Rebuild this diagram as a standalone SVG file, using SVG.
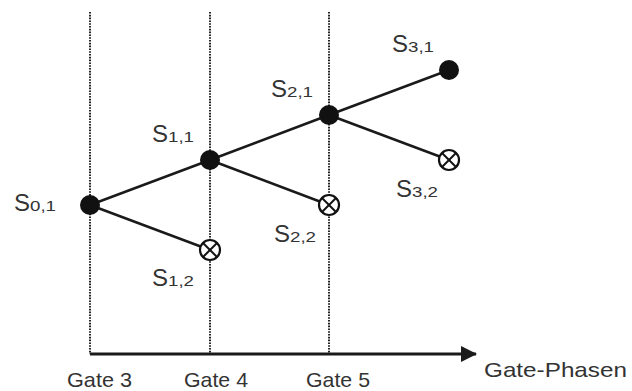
<svg xmlns="http://www.w3.org/2000/svg" width="632" height="391" viewBox="0 0 632 391">
<style>
.grid{stroke:#222;stroke-width:2;stroke-dasharray:1.6 1.2;fill:none}
.edge{stroke:#1a1a1a;stroke-width:2.5;fill:none}
.axis{stroke:#1a1a1a;stroke-width:3;fill:none}
.dot{fill:#111}
.ring{fill:#fff;stroke:#111;stroke-width:2.2}
.x{stroke:#111;stroke-width:2}
.lab{font-family:"Liberation Sans",Arial,sans-serif;fill:#333}
.big{font-size:24px}
.sub{font-size:14px}
.gate{font-size:21px}
</style>
<defs>
<marker id="arr" markerWidth="16" markerHeight="16" refX="15" refY="8" orient="auto" markerUnits="userSpaceOnUse">
<path d="M0,0 L16,8 L0,16 Z" fill="#1a1a1a"/>
</marker>
<g id="cross">
<circle class="ring" cx="0" cy="0" r="10"/>
<line class="x" x1="-7" y1="-7" x2="7" y2="7"/>
<line class="x" x1="-7" y1="7" x2="7" y2="-7"/>
</g>
</defs>
<g id="gates">
<line class="grid" x1="90" y1="12" x2="90" y2="354"/>
<line class="grid" x1="210" y1="12" x2="210" y2="354"/>
<line class="grid" x1="329" y1="12" x2="329" y2="354"/>
</g>
<g id="connectors">
<line class="axis" x1="90" y1="354" x2="476" y2="354" marker-end="url(#arr)"/>
<line class="edge" x1="90" y1="205" x2="210" y2="160"/>
<line class="edge" x1="90" y1="205" x2="210" y2="250"/>
<line class="edge" x1="210" y1="160" x2="329" y2="115"/>
<line class="edge" x1="210" y1="160" x2="329" y2="205"/>
<line class="edge" x1="329" y1="115" x2="449" y2="70"/>
<line class="edge" x1="329" y1="115" x2="449" y2="160"/>
</g>
<g id="S01"><circle class="dot" cx="90" cy="205" r="10"/>
<text class="lab" y="211"><tspan class="big" x="14">S</tspan><tspan class="sub" textLength="26" lengthAdjust="spacingAndGlyphs">0,1</tspan></text></g>
<g id="S11"><circle class="dot" cx="210" cy="160" r="10"/>
<text class="lab" y="142"><tspan class="big" x="152">S</tspan><tspan class="sub" textLength="26" lengthAdjust="spacingAndGlyphs">1,1</tspan></text></g>
<g id="S12"><use href="#cross" x="210" y="250"/>
<text class="lab" y="286"><tspan class="big" x="152">S</tspan><tspan class="sub" textLength="26" lengthAdjust="spacingAndGlyphs">1,2</tspan></text></g>
<g id="S21"><circle class="dot" cx="329" cy="115" r="10"/>
<text class="lab" y="97"><tspan class="big" x="271">S</tspan><tspan class="sub" textLength="26" lengthAdjust="spacingAndGlyphs">2,1</tspan></text></g>
<g id="S22"><use href="#cross" x="329" y="205"/>
<text class="lab" y="242"><tspan class="big" x="274">S</tspan><tspan class="sub" textLength="26" lengthAdjust="spacingAndGlyphs">2,2</tspan></text></g>
<g id="S31"><circle class="dot" cx="449" cy="70" r="10"/>
<text class="lab" y="52"><tspan class="big" x="392">S</tspan><tspan class="sub" textLength="26" lengthAdjust="spacingAndGlyphs">3,1</tspan></text></g>
<g id="S32"><use href="#cross" x="449" y="160"/>
<text class="lab" y="197"><tspan class="big" x="396">S</tspan><tspan class="sub" textLength="26" lengthAdjust="spacingAndGlyphs">3,2</tspan></text></g>
<g id="labels">
<text class="lab gate" x="67" y="387" textLength="65" lengthAdjust="spacingAndGlyphs">Gate 3</text>
<text class="lab gate" x="184" y="387" textLength="64" lengthAdjust="spacingAndGlyphs">Gate 4</text>
<text class="lab gate" x="306" y="387" textLength="64" lengthAdjust="spacingAndGlyphs">Gate 5</text>
<text class="lab gate" x="484" y="377" textLength="143" lengthAdjust="spacingAndGlyphs">Gate-Phasen</text>
</g>
</svg>
